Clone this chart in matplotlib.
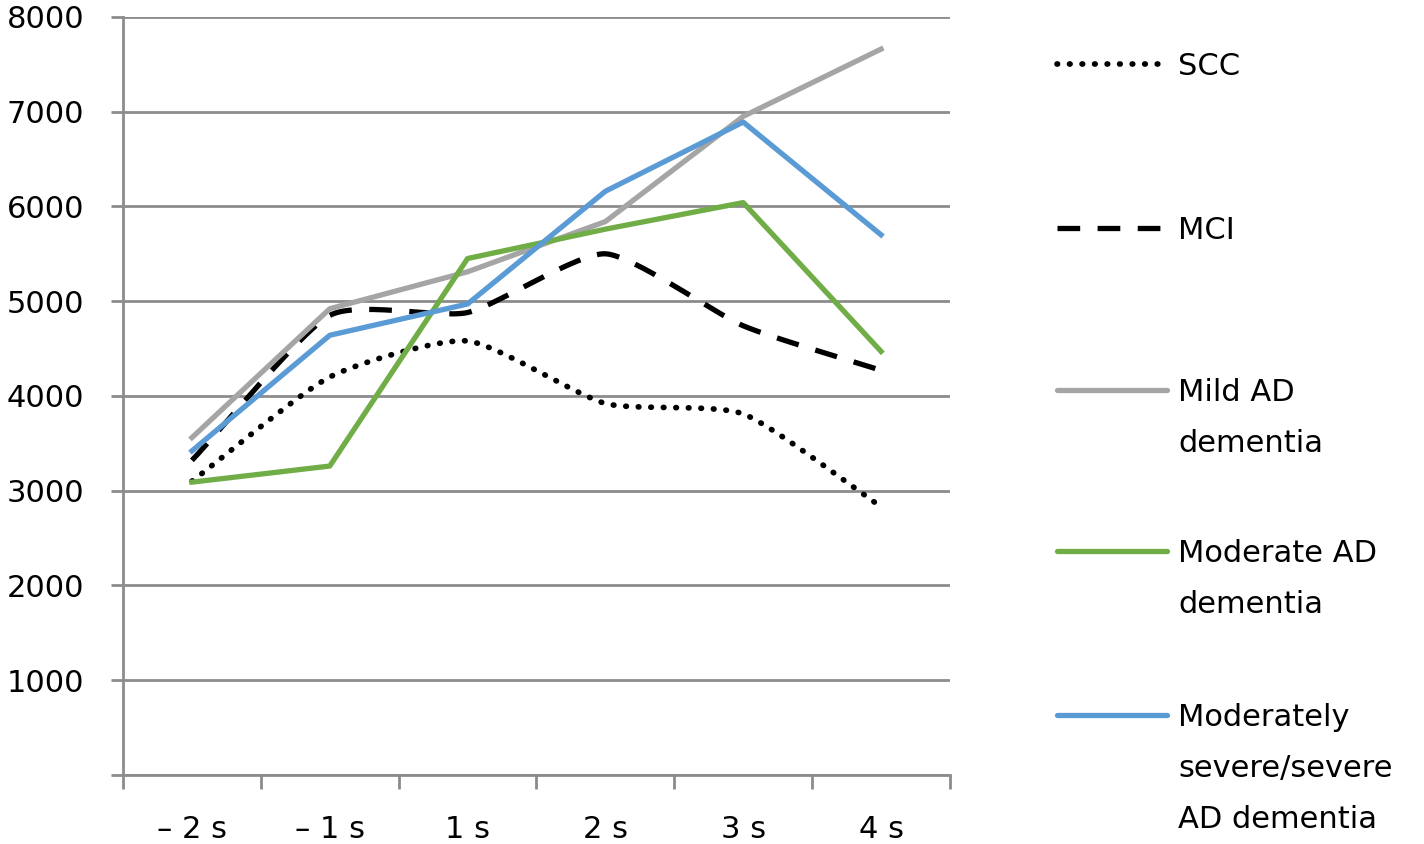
import numpy as np
import matplotlib.pyplot as plt
from matplotlib.lines import Line2D

plt.rcParams['font.family'] = ['DejaVu Sans']

categories = ['\u2013 2 s', '\u2013 1 s', '1 s', '2 s', '3 s', '4 s']
scc = [3100, 4200, 4580, 3920, 3810, 2830]
mci = [3320, 4850, 4880, 5500, 4740, 4270]
mild_ad = [3560, 4920, 5310, 5840, 6950, 7660]
moderate_ad = [3090, 3260, 5450, 5760, 6040, 4470]
severe_ad = [3420, 4640, 4970, 6160, 6890, 5700]

labels = ['SCC', 'MCI', 'Mild AD\ndementia', 'Moderate AD\ndementia',
          'Moderately\nsevere/severe\nAD dementia']


def smooth(xs, ys, n=30, tension=0.6):
    # cardinal spline through the points, like the office "smoothed line"
    xs = np.asarray(xs, float)
    ys = np.asarray(ys, float)
    px = np.concatenate([[2 * xs[0] - xs[1]], xs, [2 * xs[-1] - xs[-2]]])
    py = np.concatenate([[2 * ys[0] - ys[1]], ys, [2 * ys[-1] - ys[-2]]])
    outx, outy = [], []
    t = np.linspace(0, 1, n)
    h00 = 2 * t ** 3 - 3 * t ** 2 + 1
    h10 = t ** 3 - 2 * t ** 2 + t
    h01 = -2 * t ** 3 + 3 * t ** 2
    h11 = t ** 3 - t ** 2
    for i in range(1, len(px) - 2):
        for p, out in ((px, outx), (py, outy)):
            m1 = tension * (p[i + 1] - p[i - 1]) / 2
            m2 = tension * (p[i + 2] - p[i]) / 2
            out.extend(h00 * p[i] + h10 * m1 + h01 * p[i + 1] + h11 * m2)
    return outx, outy


fig = plt.figure(figsize=(14.24, 8.44), dpi=100)
ax = fig.add_axes([0.0864, 0.0818, 0.5807, 0.8982])

x = np.arange(len(categories))
grid_c = '#8c8c8c'
fs = 22
lw = 3.8
dots = (0, (0.1, 2.1))
dashes = (0, (4.3, 3.3))

sx, sy = smooth(x, scc)
ax.plot(sx, sy, color='black', lw=4.1, linestyle=dots,
        dash_capstyle='round', zorder=3)
mx, my = smooth(x, mci)
ax.plot(mx, my, color='black', lw=lw, linestyle=dashes, zorder=3)
ax.plot(x, mild_ad, color='#A5A5A5', lw=lw, zorder=3)
ax.plot(x, moderate_ad, color='#70AD47', lw=lw, zorder=3)
ax.plot(x, severe_ad, color='#5B9BD5', lw=lw, zorder=3)

ax.set_xlim(-0.5, len(categories) - 0.5)
ax.set_ylim(0, 8000)
ax.set_yticks(np.arange(0, 8001, 1000))
ax.set_yticklabels(['' if v == 0 else str(v) for v in range(0, 8001, 1000)])
ax.set_xticks(x)
ax.set_xticklabels(categories)
ax.set_xticks(np.arange(-0.5, len(categories)), minor=True)
ax.tick_params(axis='x', which='major', length=0, pad=29, labelsize=fs)
ax.tick_params(axis='x', which='minor', length=10, width=2, color=grid_c)
ax.tick_params(axis='y', length=9, width=2, color=grid_c, pad=19, labelsize=fs)
ax.grid(axis='y', color=grid_c, lw=2)
ax.set_axisbelow(True)
for s in ['top', 'right']:
    ax.spines[s].set_visible(False)
ax.spines['left'].set_color(grid_c)
ax.spines['left'].set_linewidth(2)
ax.spines['bottom'].set_color(grid_c)
ax.spines['bottom'].set_linewidth(2)

# legend drawn by hand, line next to first text line
styles = [
    dict(color='black', linestyle=dots, dash_capstyle='round', lw=4.1),
    dict(color='black', linestyle=dashes, lw=lw),
    dict(color='#A5A5A5', lw=lw),
    dict(color='#70AD47', lw=lw),
    dict(color='#5B9BD5', lw=lw),
]
rows = [64, 228, 390, 551, 715]
W, H = 1424, 844
cap = 0.73 * fs * 100 / 72
for lab, st, yy in zip(labels, styles, rows):
    yf = 1 - yy / H
    fig.add_artist(Line2D([1057 / W, 1167 / W], [yf, yf],
                          solid_capstyle='round', **st))
    for k, line in enumerate(lab.split('\n')):
        yb = yy + 51 * k + cap / 2
        fig.text(1178 / W, 1 - yb / H, line, fontsize=fs, va='baseline',
                 ha='left')

fig.savefig('out.png', dpi=100)
